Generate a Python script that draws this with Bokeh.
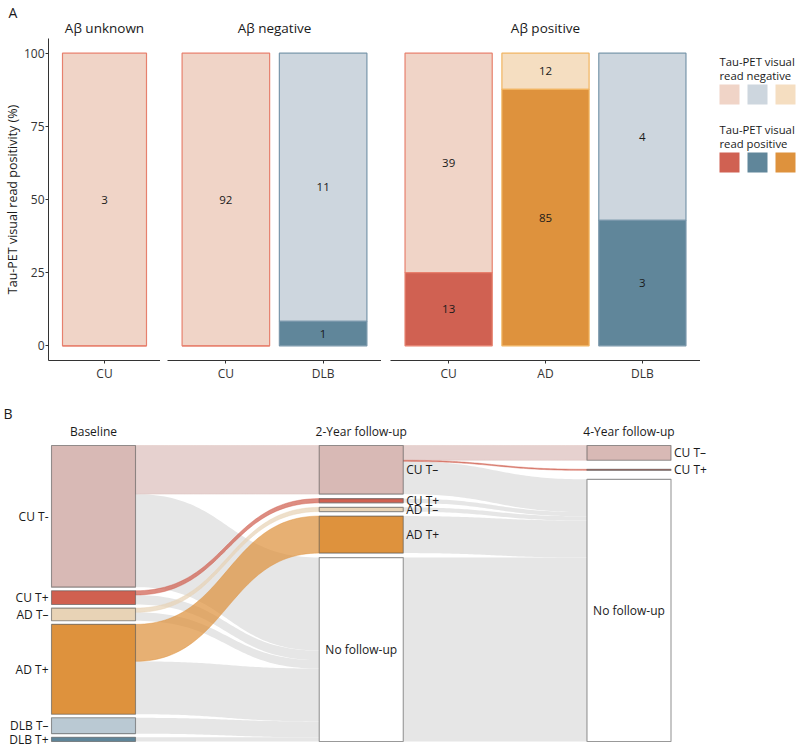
import numpy as np
from bokeh.plotting import figure
from bokeh.models import FactorRange, Range1d, Label, ColumnDataSource, FixedTicker, Title
from bokeh.layouts import row, column
from bokeh.embed import file_html
from bokeh.resources import INLINE
from bokeh.core.properties import value

FONT = "Open Sans"
TXT = "#1A1A1A"

# ---------------- Panel A data ----------------
facet_titles = ["Aβ unknown", "Aβ negative", "Aβ positive"]
facet_dx = [["CU"], ["CU", "DLB"], ["CU", "AD", "DLB"]]
facet_neg_n = [[3], [92, 11], [39, 12, 4]]
facet_pos_n = [[0], [0, 1], [13, 85, 3]]
y_ticks = [0, 25, 50, 75, 100]
y_title = "Tau-PET visual read positivity (%)"
legend_titles = [["Tau-PET visual", "read negative"], ["Tau-PET visual", "read positive"]]
legend_dx = ["CU", "DLB", "AD"]

neg_fill = {"CU": "#F0D4C7", "DLB": "#CDD6DE", "AD": "#F5DEC1"}
pos_fill = {"CU": "#D06152", "DLB": "#60869A", "AD": "#DE923D"}
edge_col = {"CU": "#E7806D", "DLB": "#7896AA", "AD": "#F1B460"}

# ---------------- Panel B data ----------------
stage_names = ["Baseline", "2-Year follow-up", "4-Year follow-up"]
base_nodes = ["CU T-", "CU T+", "AD T–", "AD T+", "DLB T–", "DLB T+"]
base_n = [134, 13, 12, 85, 15, 4]
fu2_nodes = ["CU T–", "CU T+", "AD T–", "AD T+", "No follow-up"]
fu2_n = [46, 4, 4, 35, 174]
fu4_nodes = ["CU T–", "CU T+", "No follow-up"]
fu4_n = [14, 1, 248]
flow1_src = [0, 0, 1, 1, 2, 2, 3, 3, 4, 5]
flow1_dst = [0, 4, 1, 4, 2, 4, 3, 4, 4, 4]
flow1_n = [46, 88, 4, 9, 4, 8, 35, 50, 15, 4]
flow2_src = [0, 0, 0, 1, 2, 3, 4]
flow2_dst = [0, 1, 2, 2, 2, 2, 2]
flow2_n = [14, 1, 31, 4, 4, 35, 174]

node_fill = {"CU T-": "#D8B9B5", "CU T+": "#D06050", "AD T-": "#E8D3B6", "AD T+": "#DE923D",
             "DLB T-": "#BAC9D3", "DLB T+": "#5F8599", "No follow-up": "#FFFFFF"}
flow_grey = "#E6E6E6"


def key(s):
    return s.replace("–", "-")


# ================= Panel A =================
FH = 322        # frame height
TOP, BOT = 38, 30
H_A = TOP + FH + BOT          # 390
lefts = [43, 7, 9]
frame_w = [117, 214, 310]
figsA = []
for i in range(3):
    dx = facet_dx[i]
    negs = facet_neg_n[i]
    poss = facet_pos_n[i]
    tot = [a + b for a, b in zip(negs, poss)]
    pos_pct = [100.0 * b / t for b, t in zip(poss, tot)]
    p = figure(x_range=FactorRange(factors=dx, range_padding=0.1, range_padding_units="absolute"),
               y_range=Range1d(-5, 105), width=lefts[i] + frame_w[i], height=H_A,
               min_border_left=lefts[i], min_border_right=0, min_border_top=TOP,
               min_border_bottom=BOT, output_backend="svg", toolbar_location=None,
               title=("A" if i == 0 else None), y_axis_location=("left" if i == 0 else None))
    src = ColumnDataSource(dict(x=dx, pos=pos_pct, top=[100] * len(dx),
                                nf=[neg_fill[d] for d in dx], pf=[pos_fill[d] for d in dx],
                                ec=[edge_col[d] for d in dx]))
    p.vbar(x="x", width=0.9, bottom="pos", top="top", fill_color="nf", line_color="ec",
           line_width=1.2, source=src)
    p.vbar(x="x", width=0.9, bottom=0, top="pos", fill_color="pf", line_color="ec",
           line_width=1.2, source=src)
    lx, ly, lt = [], [], []
    for d, nn, pn, pp in zip(dx, negs, poss, pos_pct):
        if nn > 0:
            lx.append(d); ly.append(pp + (100 - pp) / 2); lt.append(str(nn))
        if pn > 0:
            lx.append(d); ly.append(pp / 2); lt.append(str(pn))
    p.text(x=lx, y=ly, text=lt, text_align="center", text_baseline="middle",
           text_font=value(FONT), text_font_size="11.5px", text_color=TXT)

    if i == 0:
        # panel letter: outermost title, pulled down with a negative standoff
        p.title.text_font = FONT
        p.title.text_font_size = "14px"
        p.title.text_font_style = "normal"
        p.title.text_color = TXT
        p.title.align = "left"
        p.title.offset = -40
        p.title.standoff = -15
    # facet strip title: inner title, next to the frame
    p.add_layout(Title(text=facet_titles[i], align="center", standoff=4, text_font=FONT,
                       text_font_size="13.5px", text_font_style="normal", text_color=TXT),
                 "above")
    p.xgrid.visible = False
    p.ygrid.visible = False
    p.outline_line_color = None
    for ax in p.xaxis:
        ax.axis_line_color = "#333333"
        ax.major_tick_line_color = "#333333"
        ax.major_tick_out = 3
        ax.major_tick_in = 0
        ax.minor_tick_line_color = None
        ax.major_label_standoff = 1
        ax.major_label_text_font = FONT
        ax.major_label_text_font_size = "12px"
        ax.major_label_text_color = "#333333"
    if i == 0:
        ax = p.yaxis[0]
        ax.ticker = FixedTicker(ticks=y_ticks)
        ax.axis_line_color = "#333333"
        ax.major_tick_line_color = "#333333"
        ax.major_tick_out = 3
        ax.major_tick_in = 0
        ax.minor_tick_line_color = None
        ax.major_label_standoff = 1
        ax.major_label_text_font = FONT
        ax.major_label_text_font_size = "12px"
        ax.major_label_text_color = "#333333"
        ax.axis_label = y_title
        ax.axis_label_standoff = 0
        ax.axis_label_text_font = FONT
        ax.axis_label_text_font_size = "12.5px"
        ax.axis_label_text_font_style = "normal"
        ax.axis_label_text_color = TXT
    figsA.append(p)

# legend (its frame is aligned with the facet frames by the row layout)
LW = 797 - sum(f.width for f in figsA)
leg = figure(width=LW, height=H_A, x_range=Range1d(0, LW), y_range=Range1d(TOP + FH, TOP),
             output_backend="svg", toolbar_location=None, min_border=0,
             x_axis_location=None, y_axis_location=None)
leg.grid.visible = False
leg.outline_line_color = None
group_top = [61, 129]
fills_groups = [[neg_fill[d] for d in legend_dx], [pos_fill[d] for d in legend_dx]]
for g in range(2):
    t0 = group_top[g]
    leg.text(x=[19, 19], y=[t0, t0 + 13.5], text=legend_titles[g], text_align="left",
             text_baseline="middle", text_font=value(FONT), text_font_size="11.3px",
             text_color=TXT)
    lefts_sw = [19 + 28 * j for j in range(3)]
    leg.quad(left=lefts_sw, right=[l + 20 for l in lefts_sw], top=[t0 + 23] * 3,
             bottom=[t0 + 43] * 3, fill_color=fills_groups[g], line_color=None)

# ================= Panel B =================
WB, HB = 797, 749 - H_A
SX, X0 = 267.75, 93.0       # px per stage, px of first stage centre
Y0 = 55.0                   # px of node top (within panel B)
COL_PX = 296.0              # px height of a full column
GAP_PX = 18.0
total = sum(base_n)
KY = (COL_PX - GAP_PX) / total
G = GAP_PX / KY
HW = 42.0 / SX

pB = figure(width=WB, height=HB, x_range=Range1d(-X0 / SX, (WB - X0) / SX),
            y_range=Range1d((HB - Y0) / KY, -Y0 / KY), output_backend="svg",
            toolbar_location=None, min_border=0, x_axis_location=None, y_axis_location=None)
pB.grid.visible = False
pB.outline_line_color = None

stage_nodes = [base_nodes, fu2_nodes, fu4_nodes]
stage_n = [base_n, fu2_n, fu4_n]


def stack(counts):
    gap = G / (len(counts) - 1)
    tops, y = [], 0.0
    for c in counts:
        tops.append(y)
        y += c + gap
    return tops


stage_tops = [stack(c) for c in stage_n]


def ribbon(x0, x1, y0t, y0b, y1t, y1b, m=60):
    t = np.linspace(0, 1, m)
    d = x1 - x0
    bx = (1 - t) ** 3 * x0 + 3 * (1 - t) ** 2 * t * (x0 + d / 2) + 3 * (1 - t) * t ** 2 * (x1 - d / 2) + t ** 3 * x1
    s = 3 * t ** 2 - 2 * t ** 3
    yt = y0t + (y1t - y0t) * s
    yb = y0b + (y1b - y0b) * s
    return list(bx) + list(bx[::-1]), list(yt) + list(yb[::-1])


grey_xs, grey_ys = [], []
col_xs, col_ys, col_fill, col_alpha = [], [], [], []
for st, (srcs, dsts, ns) in enumerate([(flow1_src, flow1_dst, flow1_n), (flow2_src, flow2_dst, flow2_n)]):
    out_off = [0.0] * len(stage_n[st])
    in_off = [0.0] * len(stage_n[st + 1])
    seg = {}
    for i in sorted(range(len(ns)), key=lambda i: (srcs[i], dsts[i])):
        s = srcs[i]
        seg[i] = [stage_tops[st][s] + out_off[s]]
        out_off[s] += ns[i]
    for i in sorted(range(len(ns)), key=lambda i: (dsts[i], srcs[i])):
        d = dsts[i]
        seg[i].append(stage_tops[st + 1][d] + in_off[d])
        in_off[d] += ns[i]
    for i in range(len(ns)):
        y0, y1 = seg[i]
        xs, ys = ribbon(st + HW, st + 1 - HW, y0, y0 + ns[i], y1, y1 + ns[i])
        dname = key(stage_nodes[st + 1][dsts[i]])
        if dname == "No follow-up":
            grey_xs.append(xs); grey_ys.append(ys)
        else:
            col_xs.append(xs); col_ys.append(ys)
            col_fill.append(node_fill[dname])
            col_alpha.append(0.65 if dname == "CU T-" else 0.72)

pB.patches(grey_xs, grey_ys, fill_color=flow_grey, line_color=None)
pB.patches(xs="xs", ys="ys", fill_color="fc", fill_alpha="fa", line_color="fc", line_alpha="fa",
           line_width=0.6,
           source=ColumnDataSource(dict(xs=col_xs, ys=col_ys, fc=col_fill, fa=col_alpha)))

for st in range(3):
    names = stage_nodes[st]
    tops = stage_tops[st]
    ns = stage_n[st]
    pB.quad(left=[st - HW] * len(ns), right=[st + HW] * len(ns), top=tops,
            bottom=[t + n for t, n in zip(tops, ns)],
            fill_color=[node_fill[key(nm)] for nm in names],
            line_color="#555555", line_alpha=0.6, line_width=1.1)
    mids = [t + n / 2 for t, n in zip(tops, ns)]
    inside = [key(nm) == "No follow-up" for nm in names]
    if st == 0:
        pB.text(x=[st - HW - 3 / SX] * len(ns), y=mids, text=names, text_align="right",
                text_baseline="middle", text_font=value(FONT), text_font_size="12px",
                text_color=TXT)
    else:
        ox = [st if ins else st + HW + 3 / SX for ins in inside]
        al = ["center" if ins else "left" for ins in inside]
        pB.text(x=ox, y=mids, text=names, text_align=al, text_baseline="middle",
                text_font=value(FONT), text_font_size="12px", text_color=TXT)

pB.text(x=[0, 1, 2], y=[-14 / KY] * 3, text=stage_names, text_align="center",
        text_baseline="middle", text_font=value(FONT), text_font_size="12px", text_color=TXT)
pB.add_layout(Label(x=3, y=HB - 23, x_units="screen", y_units="screen", text="B",
                    text_font=FONT, text_font_size="14px", text_color=TXT,
                    text_baseline="middle", text_align="left"))

layout = column(row(*figsA, leg), pB)
open("out.html", "w").write(file_html(layout, INLINE))
